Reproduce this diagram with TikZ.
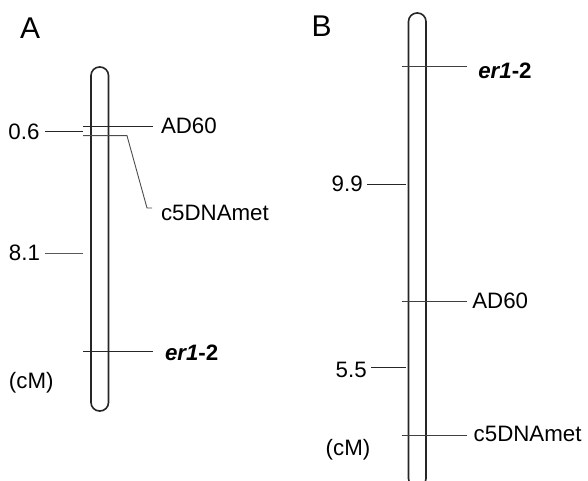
\documentclass[tikz,border=0pt]{standalone}
\usepackage{fontspec}
\setmainfont{Liberation Sans}
\begin{document}
\begin{tikzpicture}[x=1pt,y=-1pt,
  chrom/.style={draw=black!85, line width=1.6pt, rounded corners=8.5pt, minimum width=17.5pt, inner sep=0pt},
  lbl/.style={inner sep=0pt, outer sep=0pt, font=\fontsize{22.3}{25}\selectfont},
  panel/.style={inner sep=0pt, outer sep=0pt, font=\fontsize{30}{34}\selectfont},
  mk/.style={draw=black!85, line width=0.9pt}]
\path[use as bounding box] (0,0) rectangle (588,481);

% Panel A
\node[panel, anchor=west] (pA) at (20,28) {A};
\node[chrom, minimum height=344pt] (chrA) at (99.75,239) {};

\node[lbl, anchor=west] (aAD) at (161,126) {AD60};
\coordinate (aADs) at (83,126);
\draw[mk] (aADs) -- (aAD.west -| 153,0);

\node[lbl, anchor=east] (a06) at (39.5,131.5) {0.6};
\coordinate (a06e) at (83,131.5);
\draw[mk] (a06.east) ++(5.5,0) -- (a06e);

\node[lbl, anchor=west] (aC5) at (161,213) {c5DNAmet};
\coordinate (aC5s) at (83,135.7);
\coordinate (aC5k) at (127,135.7);
\coordinate (aC5d) at (147,208);
\draw[mk, draw=black!70] (aC5s) -- (aC5k) -- (aC5d) -- (aC5d -| 152,0);

\node[lbl, anchor=east] (a81) at (40,253) {8.1};
\coordinate (a81e) at (83,253);
\draw[mk, draw=black!65] (a81.east) ++(5,0) -- (a81e);

\node[lbl, anchor=west] (aER) at (165,352.5) {\textbf{\textit{er1}-2}};
\coordinate (aERs) at (83,351.7);
\draw[mk] (aERs) -- (153,351.7);

\node[lbl, anchor=west] (acM) at (9,383) {(cM)};

% Panel B
\node[panel, anchor=west] (pB) at (311.7,26) {B};
\begin{scope}
\clip (0,0) rectangle (588,481);
\node[chrom, minimum height=474pt] (chrB) at (417.25,250) {};
\end{scope}

\node[lbl, anchor=west] (bER) at (478.3,71) {\textbf{\textit{er1}-2}};
\coordinate (bERs) at (401.7,66.7);
\draw[mk, draw=black!75] (bERs) -- (467,66.7);

\node[lbl, anchor=east] (b99) at (362.7,183.5) {9.9};
\coordinate (b99e) at (406,184);
\draw[mk] (b99.east) ++(4.3,0.5) -- (b99e);

\node[lbl, anchor=west] (bAD) at (472.3,301) {AD60};
\coordinate (bADs) at (401.7,301);
\draw[mk, draw=black!75] (bADs) -- (467,301);

\node[lbl, anchor=east] (b55) at (366.7,369.5) {5.5};
\coordinate (b55e) at (406,367.7);
\draw[mk] (b55.east) ++(4.3,-1.8) -- (b55e);

\node[lbl, anchor=west] (bC5) at (473.7,434) {c5DNAmet};
\coordinate (bC5s) at (401.7,435);
\draw[mk, draw=black!75] (bC5s) -- (467,435);

\node[lbl, anchor=west] (bcM) at (325.7,450) {(cM)};
\end{tikzpicture}
\end{document}
